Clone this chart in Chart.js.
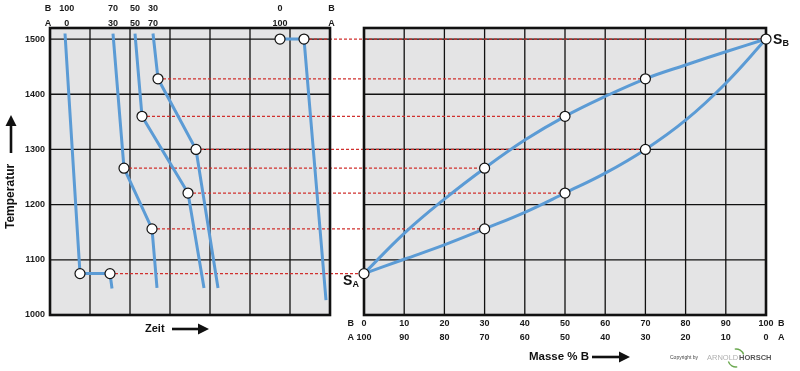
<!DOCTYPE html>
<html>
<head>
<meta charset="utf-8">
<script src="https://cdn.jsdelivr.net/npm/chart.js@4/dist/chart.umd.min.js"></script>
<style>
  html, body { margin: 0; padding: 0; background: #fff; }
  #wrap { position: relative; width: 800px; height: 371px; }
</style>
</head>
<body>
<div id="wrap"><canvas id="chart"></canvas></div>
<script>
// --- cooling curves (left panel: time units, temperature °C) ---
const curve1Time = [0.375, 0.75, 1.5, 1.55];
const curve1Temp = [1510, 1075, 1075, 1048];
const curve1Marks = [1, 2];

const curve2Time = [1.575, 1.85, 2.55, 2.675];
const curve2Temp = [1510, 1266, 1156, 1049];
const curve2Marks = [1, 2];

const curve3Time = [2.125, 2.3, 3.45, 3.85];
const curve3Temp = [1510, 1360, 1221, 1049];
const curve3Marks = [1, 2];

const curve4Time = [2.575, 2.7, 3.65, 4.2];
const curve4Temp = [1510, 1428, 1300, 1049];
const curve4Marks = [1, 2];

const curve5Time = [5.75, 6.35, 6.9];
const curve5Temp = [1500, 1500, 1027];
const curve5Marks = [0, 1];

// --- phase diagram (right panel: mass % B) ---
const massB    = [0, 10, 20, 30, 40, 50, 60, 70, 80, 90, 100];
const liquidus = [1075, 1148, 1210, 1266, 1317, 1360, 1396, 1428, 1453, 1477, 1500];
const solidus  = [1075, 1101, 1127, 1156, 1186, 1221, 1257, 1300, 1353, 1420, 1500];
const liquidusMarks = [0, 30, 50, 70, 100];
const solidusMarks  = [30, 50, 70];

// --- red tie lines: cooling-curve point -> diagram point ---
const tieTemp = [1075, 1266, 1156, 1360, 1221, 1428, 1300, 1500];
const tieTime = [1.5, 1.85, 2.55, 2.3, 3.45, 2.7, 3.65, 6.35];
const tieComp = [0, 30, 30, 50, 50, 70, 70, 100];

// --- tick labels ---
const tempTicks = [1000, 1100, 1200, 1300, 1400, 1500];
const topTickTime = [-0.05, 0.42, 1.575, 2.125, 2.575, 5.75, 7.04];
const topTickB = ['B', '100', '70', '50', '30', '0', 'B'];
const topTickA = ['A', '0', '30', '50', '70', '100', 'A'];
const massTicks = [-3.3, 0, 10, 20, 30, 40, 50, 60, 70, 80, 90, 100, 103.8];
const massTickB = ['B', '0', '10', '20', '30', '40', '50', '60', '70', '80', '90', '100', 'B'];
const massTickA = ['A', '100', '90', '80', '70', '60', '50', '40', '30', '20', '10', '0', 'A'];

// layout (pixels)
const W = 800, H = 371;
const AREA_L = 50, AREA_R = 766, AREA_T = 28, AREA_B = 315;
const LEFT_PANEL_R = 330, RIGHT_PANEL_L = 364;
const TIME_MAX = 7, TEMP_MIN = 1000, TEMP_MAX = 1520;

const BLUE = '#5b9bd5';
const RED = '#d0302e';
const FONT = '"Liberation Sans", Arial, sans-serif';

Chart.defaults.font.family = FONT;
Chart.defaults.color = '#1a1a1a';

const pts = (xs, ys) => xs.map((v, i) => ({ x: v, y: ys[i] }));
const radii = (n, idx) => Array.from({ length: n }, (_, i) => idx.includes(i) ? 5 : 0);

function coolingSet(times, temps, marks) {
  return {
    data: pts(times, temps),
    xAxisID: 'xt',
    showLine: true,
    borderColor: BLUE,
    borderWidth: 3,
    tension: 0,
    pointRadius: radii(times.length, marks),
    pointBackgroundColor: '#fff',
    pointBorderColor: '#111',
    pointBorderWidth: 1.2,
    clip: false,
  };
}

function diagramSet(temps, marks) {
  return {
    data: pts(massB, temps),
    xAxisID: 'x',
    showLine: true,
    borderColor: BLUE,
    borderWidth: 3,
    tension: 0.4,
    pointRadius: massB.map(c => marks.includes(c) ? 5 : 0),
    pointBackgroundColor: '#fff',
    pointBorderColor: '#111',
    pointBorderWidth: 1.2,
    clip: false,
  };
}

function arrow(ctx, x0, y, x1) {
  ctx.beginPath();
  ctx.lineWidth = 2.6;
  ctx.moveTo(x0, y);
  ctx.lineTo(x1 - 9, y);
  ctx.stroke();
  ctx.beginPath();
  ctx.moveTo(x1, y);
  ctx.lineTo(x1 - 11, y - 5.5);
  ctx.lineTo(x1 - 11, y + 5.5);
  ctx.closePath();
  ctx.fill();
}

const panels = {
  id: 'panels',
  beforeDatasetsDraw(chart) {
    const { ctx, chartArea: a, scales: { xt, x, y } } = chart;
    const lx0 = xt.getPixelForValue(0), lx1 = xt.getPixelForValue(TIME_MAX);
    const rx0 = x.getPixelForValue(0), rx1 = x.getPixelForValue(100);
    ctx.save();
    ctx.fillStyle = '#e4e4e5';
    ctx.fillRect(lx0, a.top, lx1 - lx0, a.bottom - a.top);
    ctx.fillRect(rx0, a.top, rx1 - rx0, a.bottom - a.top);

    // grid
    ctx.strokeStyle = '#111';
    ctx.lineWidth = 1.3;
    ctx.beginPath();
    for (let t = 1; t < TIME_MAX; t++) {
      const p = xt.getPixelForValue(t);
      ctx.moveTo(p, a.top); ctx.lineTo(p, a.bottom);
    }
    massB.slice(1, -1).forEach(c => {
      const p = x.getPixelForValue(c);
      ctx.moveTo(p, a.top); ctx.lineTo(p, a.bottom);
    });
    tempTicks.slice(1).forEach(T => {
      const p = y.getPixelForValue(T);
      ctx.moveTo(lx0, p); ctx.lineTo(lx1, p);
      ctx.moveTo(rx0, p); ctx.lineTo(rx1, p);
    });
    ctx.stroke();

    // tie lines
    ctx.strokeStyle = RED;
    ctx.lineWidth = 1.3;
    ctx.setLineDash([3, 2]);
    ctx.beginPath();
    tieTemp.forEach((T, i) => {
      const p = y.getPixelForValue(T);
      ctx.moveTo(xt.getPixelForValue(tieTime[i]), p);
      ctx.lineTo(x.getPixelForValue(tieComp[i]), p);
    });
    ctx.stroke();
    ctx.setLineDash([]);

    // panel borders
    ctx.strokeStyle = '#111';
    ctx.lineWidth = 2.6;
    ctx.strokeRect(lx0, a.top, lx1 - lx0, a.bottom - a.top);
    ctx.strokeRect(rx0, a.top, rx1 - rx0, a.bottom - a.top);
    ctx.restore();
  },
  afterDraw(chart) {
    const { ctx, scales: { x, y } } = chart;
    ctx.save();
    ctx.fillStyle = '#111';
    ctx.strokeStyle = '#111';
    ctx.textBaseline = 'middle';
    ctx.textAlign = 'left';

    // Temperatur (vertical)
    ctx.save();
    ctx.translate(11, 229);
    ctx.rotate(-Math.PI / 2);
    ctx.font = 'bold 12px ' + FONT;
    ctx.fillText('Temperatur', 0, 0);
    arrow(ctx, 76, 0, 114);
    ctx.restore();

    // Zeit
    ctx.font = 'bold 11px ' + FONT;
    ctx.fillText('Zeit', 145, 329);
    arrow(ctx, 172, 329, 209);

    // Masse % B
    ctx.font = 'bold 11.5px ' + FONT;
    ctx.fillText('Masse % B', 529, 357);
    arrow(ctx, 592, 357, 630);

    // S_A / S_B
    const sax = x.getPixelForValue(0), say = y.getPixelForValue(1075);
    ctx.font = 'bold 14px ' + FONT;
    ctx.fillText('S', sax - 21, say + 8);
    ctx.font = 'bold 9px ' + FONT;
    ctx.fillText('A', sax - 11.5, say + 11);
    const sbx = x.getPixelForValue(100), sby = y.getPixelForValue(1500);
    ctx.font = 'bold 14px ' + FONT;
    ctx.fillText('S', sbx + 7, sby + 1);
    ctx.font = 'bold 9px ' + FONT;
    ctx.fillText('B', sbx + 16.5, sby + 4);

    // copyright logo
    ctx.font = '5px ' + FONT;
    ctx.fillStyle = '#444';
    ctx.fillText('Copyright by', 670, 358);
    ctx.font = '7.5px ' + FONT;
    ctx.fillStyle = '#b0b0b0';
    ctx.fillText('ARNOLD', 707, 358);
    ctx.font = 'bold 7.5px ' + FONT;
    ctx.fillStyle = '#555';
    ctx.fillText('HORSCH', 739, 358);
    ctx.strokeStyle = '#6aa84f';
    ctx.lineWidth = 1.3;
    ctx.beginPath();
    ctx.arc(736, 357, 8, -Math.PI * 0.55, -Math.PI * 0.1);
    ctx.stroke();
    ctx.beginPath();
    ctx.arc(736, 359, 8, Math.PI * 0.45, Math.PI * 0.9);
    ctx.stroke();
    ctx.restore();
  }
};

const fitH = h => s => { s.height = h; s.paddingLeft = 0; s.paddingRight = 0; };

new Chart(document.getElementById('chart'), {
  type: 'scatter',
  data: {
    datasets: [
      diagramSet(liquidus, liquidusMarks),
      diagramSet(solidus, solidusMarks),
      coolingSet(curve1Time, curve1Temp, curve1Marks),
      coolingSet(curve2Time, curve2Temp, curve2Marks),
      coolingSet(curve3Time, curve3Temp, curve3Marks),
      coolingSet(curve4Time, curve4Temp, curve4Marks),
      coolingSet(curve5Time, curve5Temp, curve5Marks),
    ]
  },
  options: {
    responsive: true,
    maintainAspectRatio: false,
    animation: false,
    events: [],
    layout: { padding: { left: 0, right: W - AREA_R, top: 0, bottom: 0 } },
    plugins: { legend: { display: false }, tooltip: { enabled: false } },
    scales: {
      xt: {
        type: 'linear',
        position: 'top',
        min: 0,
        max: TIME_MAX * (AREA_R - AREA_L) / (LEFT_PANEL_R - AREA_L),
        grid: { display: false, drawTicks: false },
        border: { display: false },
        afterBuildTicks: s => { s.ticks = topTickTime.map(v => ({ value: v })); },
        afterFit: fitH(AREA_T),
        ticks: {
          autoSkip: false, maxRotation: 0, minRotation: 0, padding: -3,
          font: { size: 9, weight: 'bold', lineHeight: '15px' },
          callback: (v, i) => [topTickB[i], topTickA[i]],
        },
      },
      x: {
        type: 'linear',
        position: 'bottom',
        min: -100 * (RIGHT_PANEL_L - AREA_L) / (AREA_R - RIGHT_PANEL_L),
        max: 100,
        grid: { display: false, drawTicks: false },
        border: { display: false },
        afterBuildTicks: s => { s.ticks = massTicks.map(v => ({ value: v })); },
        afterFit: fitH(H - AREA_B),
        ticks: {
          autoSkip: false, maxRotation: 0, minRotation: 0, padding: 2,
          font: { size: 9, weight: 'bold', lineHeight: '14px' },
          callback: (v, i) => [massTickB[i], massTickA[i]],
        },
      },
      y: {
        type: 'linear',
        position: 'left',
        min: TEMP_MIN,
        max: TEMP_MAX,
        grid: { display: false, drawTicks: false },
        border: { display: false },
        afterBuildTicks: s => { s.ticks = tempTicks.map(v => ({ value: v })); },
        afterFit: s => { s.width = AREA_L; },
        ticks: {
          padding: 5,
          font: { size: 9, weight: 'bold' },
          callback: v => String(v),
        },
      },
    },
  },
  plugins: [panels],
});
</script>
</body>
</html>
